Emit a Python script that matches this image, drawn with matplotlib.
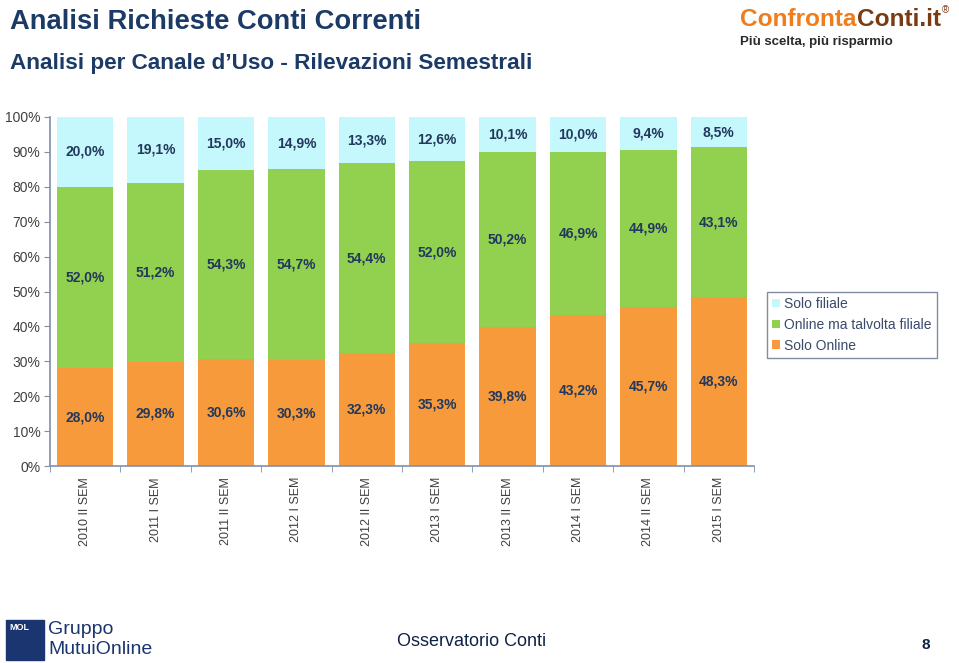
import matplotlib
matplotlib.use("Agg")
import matplotlib.pyplot as plt
from matplotlib.patches import Rectangle
import numpy as np

plt.rcParams['font.family'] = ['Liberation Sans', 'DejaVu Sans']

categories = ['2010 II SEM', '2011 I SEM', '2011 II SEM', '2012 I SEM', '2012 II SEM',
              '2013 I SEM', '2013 II SEM', '2014 I SEM', '2014 II SEM', '2015 I SEM']
solo_online = [28.0, 29.8, 30.6, 30.3, 32.3, 35.3, 39.8, 43.2, 45.7, 48.3]
online_filiale = [52.0, 51.2, 54.3, 54.7, 54.4, 52.0, 50.2, 46.9, 44.9, 43.1]
solo_filiale = [20.0, 19.1, 15.0, 14.9, 13.3, 12.6, 10.1, 10.0, 9.4, 8.5]
series_names = ['Solo Online', 'Online ma talvolta filiale', 'Solo filiale']
yticks = [0, 10, 20, 30, 40, 50, 60, 70, 80, 90, 100]

c_orange = '#F79A3C'
c_green = '#92D050'
c_cyan = '#C4F8FC'
navy = '#1B3A66'
label_col = '#22385C'
axis_col = '#7F8FAA'

fig = plt.figure(figsize=(9.59, 6.63), dpi=100)
ax = fig.add_axes([50 / 959, 1 - 466 / 663, 704 / 959, 349 / 663])

x = np.arange(len(categories))
w = 0.8
b1 = ax.bar(x, solo_online, w, color=c_orange, label=series_names[0])
b2 = ax.bar(x, online_filiale, w, bottom=solo_online, color=c_green, label=series_names[1])
bot3 = np.array(solo_online) + np.array(online_filiale)
b3 = ax.bar(x, solo_filiale, w, bottom=bot3, color=c_cyan, label=series_names[2])

def fmt(v):
    return f"{v:.1f}".replace('.', ',') + '%'

for i in x:
    ax.text(i, solo_online[i] / 2, fmt(solo_online[i]), ha='center', va='center',
            fontsize=10, fontweight='bold', color=label_col)
    ax.text(i, solo_online[i] + online_filiale[i] / 2, fmt(online_filiale[i]), ha='center',
            va='center', fontsize=10, fontweight='bold', color=label_col)
    ax.text(i, bot3[i] + solo_filiale[i] / 2, fmt(solo_filiale[i]), ha='center', va='center',
            fontsize=10, fontweight='bold', color=label_col)

ax.set_xlim(-0.5, len(categories) - 0.5)
ax.set_ylim(0, 100)
ax.set_yticks(yticks)
ax.set_yticklabels([f"{t}%" for t in yticks], fontsize=10, color='#404040')
ax.set_xticks(x)
ax.set_xticklabels(categories, rotation=90, fontsize=9, color='#404040')
ax.tick_params(axis='x', length=0, pad=8)
ax.set_xticks(np.arange(-0.5, len(categories), 1), minor=True)
ax.tick_params(axis='x', which='minor', length=4, color=axis_col, direction='out')
ax.tick_params(axis='y', length=4, color=axis_col, direction='out', pad=3)
for s in ['top', 'right']:
    ax.spines[s].set_visible(False)
for s in ['left', 'bottom']:
    ax.spines[s].set_color(axis_col)
    ax.spines[s].set_linewidth(1.2)

handles = [b3, b2, b1]
leg = ax.legend(handles, [series_names[2], series_names[1], series_names[0]],
                loc='upper left', bbox_to_anchor=(767 / 959, 1 - 292 / 663),
                bbox_transform=fig.transFigure, fontsize=10, frameon=True, fancybox=False,
                handlelength=0.6, handleheight=0.6, handletextpad=0.3, borderpad=0.35,
                labelspacing=0.5, borderaxespad=0)
leg.get_frame().set_edgecolor('#5F6F8C')
leg.get_frame().set_linewidth(1.0)
for t in leg.get_texts():
    t.set_color('#3A4A6A')

# titles
fig.text(10 / 959, 1 - 22 / 663, 'Analisi Richieste Conti Correnti', fontsize=19.7,
         fontweight='bold', color=navy, va='center', ha='left')
fig.text(10 / 959, 1 - 63 / 663, 'Analisi per Canale d\u2019Uso - Rilevazioni Semestrali',
         fontsize=16.2, fontweight='bold', color=navy, va='center', ha='left')

# ConfrontaConti logo, sized to fit 740..943 px
fig.canvas.draw()
r = fig.canvas.get_renderer()
probe = fig.text(0, 0, 'ConfrontaConti.it', fontsize=20, fontweight='bold')
pw = probe.get_window_extent(r).width
probe.remove()
lsize = 20 * 200 / pw
t1 = fig.text(740 / 959, 1 - 20 / 663, 'Confronta', fontsize=lsize, fontweight='bold',
              color='#F07C1C', va='center', ha='left')
bb = t1.get_window_extent(r)
t2 = fig.text(bb.x1 / 959, 1 - 20 / 663, 'Conti.it', fontsize=lsize, fontweight='bold',
              color='#7A3A12', va='center', ha='left')
bb2 = t2.get_window_extent(r)
fig.text(bb2.x1 / 959 + 0.001, 1 - 10 / 663, '\u00ae', fontsize=7, color='#7A3A12',
         va='center', ha='left')
fig.text(740 / 959, 1 - 42 / 663, 'Più scelta, più risparmio', fontsize=9.5,
         fontweight='bold', color='#2A2A2A', va='center', ha='left')

# bottom logo
fig.patches.append(Rectangle((6 / 959, 1 - 660 / 663), 38 / 959, 40 / 663,
                             transform=fig.transFigure, color='#1B3570'))
fig.text(9 / 959, 1 - 627 / 663, 'MOL', fontsize=6.5, fontweight='bold', color='white',
         va='center', ha='left')
fig.text(48 / 959, 1 - 630 / 663, 'Gruppo', fontsize=14, color='#1B3570', va='center',
         ha='left', stretch='condensed')
fig.text(48 / 959, 1 - 650 / 663, 'MutuiOnline', fontsize=14, color='#1B3570', va='center',
         ha='left')
fig.text(472 / 959, 1 - 641 / 663, 'Osservatorio Conti', fontsize=13, color='#0F2246',
         va='center', ha='center')
fig.text(926 / 959, 1 - 645 / 663, '8', fontsize=11, fontweight='bold', color='#0F2246',
         va='center', ha='center')

fig.savefig('out.png', dpi=100)
